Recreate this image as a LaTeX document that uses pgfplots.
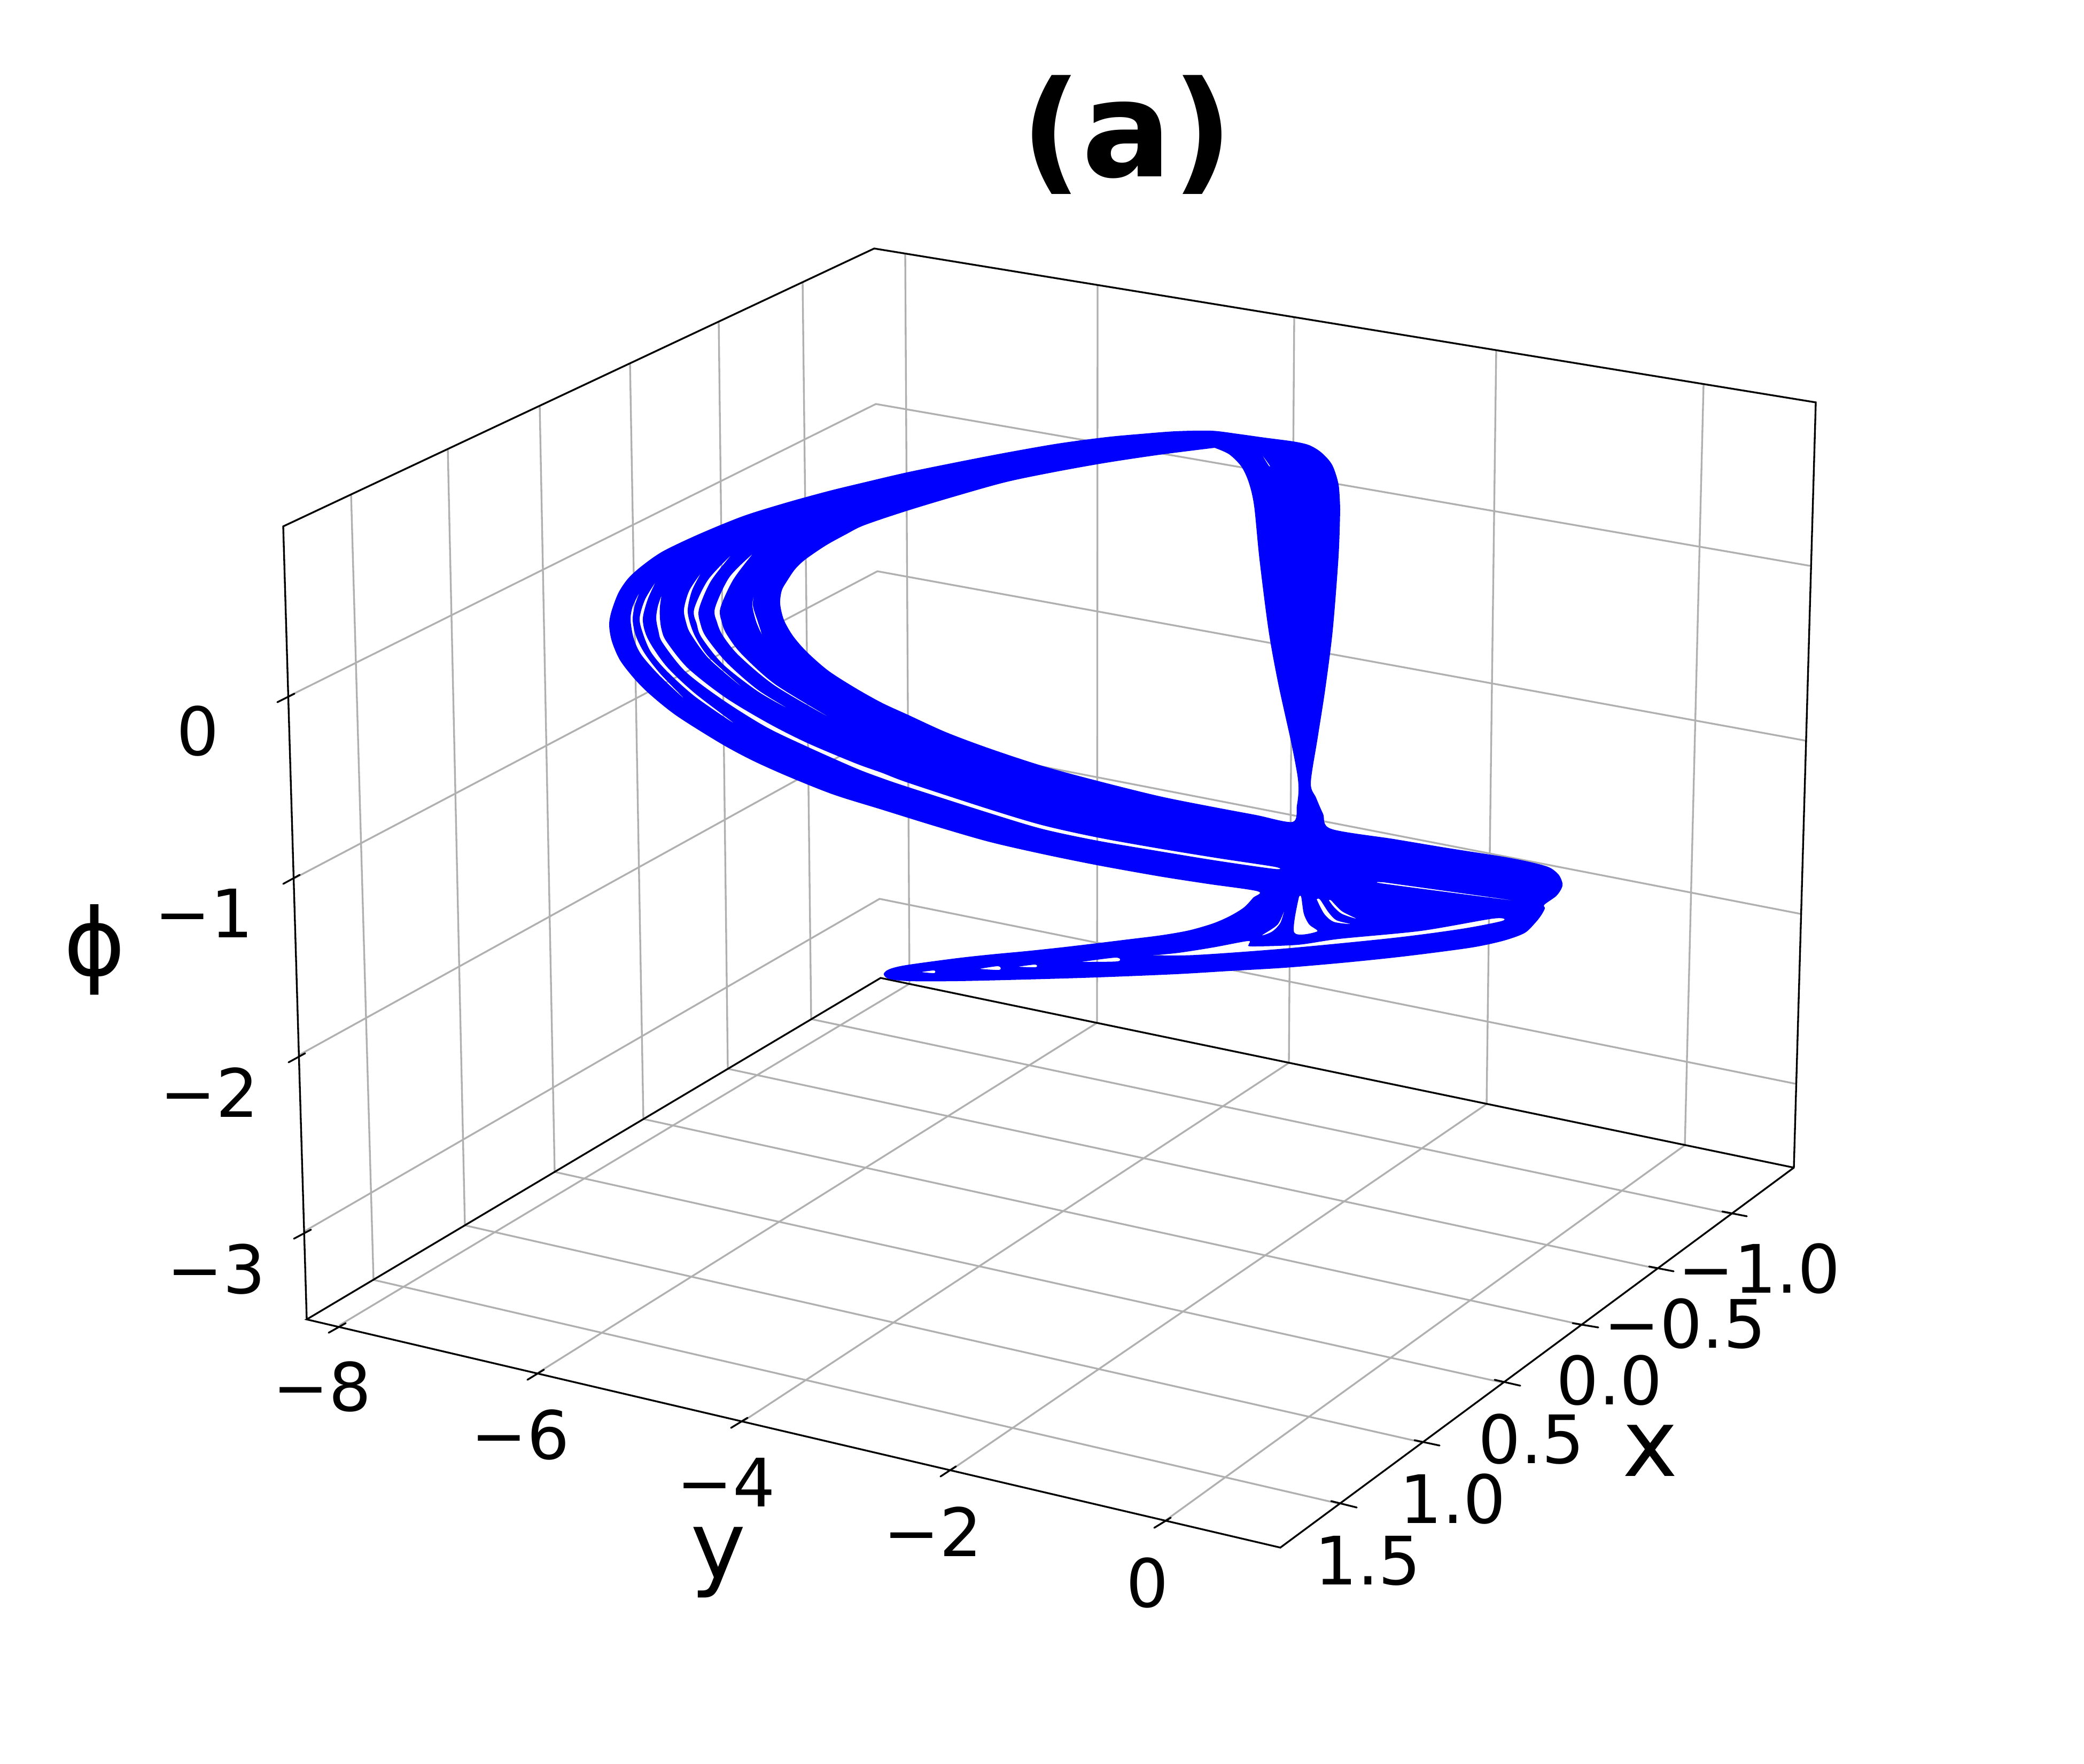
\documentclass[border=0pt]{standalone}
\usepackage{fontspec}
\setmainfont{DejaVu Sans}
\usepackage{pgfplots}
\pgfplotsset{compat=1.18}
% pgfplots has no perspective view, so the box and the orbit bundle are
% given in projected picture coordinates (reference pixels, y downwards)
\pgfplotsset{
  gridline/.style={color=grid, line width=0.8pt, unbounded coords=jump},
  boxline/.style={color=black, line width=0.8pt, line cap=round, unbounded coords=jump},
}
\definecolor{grid}{HTML}{B0B0B0}
\newcommand{\ticklab}[2]{\node[font=\fontsize{30}{36}\selectfont, inner sep=0pt] at (axis cs:#1) {#2};}
\newcommand{\axlab}[2]{\node[font=\fontsize{42}{50}\selectfont, inner sep=0pt] at (axis cs:#1) {#2};}
\begin{document}
\begin{tikzpicture}
\path[use as bounding box] (0,0) rectangle (936pt,792pt);
\begin{axis}[
  at={(0,0)}, anchor=south west, scale only axis,
  width=936pt, height=792pt,
  xmin=0, xmax=3900, ymin=0, ymax=3300, y dir=reverse,
  hide axis, clip=false,
]
% grid: phi = const on the two walls
\addplot[gridline] coordinates {
 (538,1304) (1639,756) (3388,1059) (nan,nan)
 (550,1644) (1642,1069) (3379,1386) (nan,nan)
 (560,1974) (1644,1375) (3369,1710) (nan,nan)
 (570,2304) (1646,1682) (3360,2028)
};
% grid: x = const, floor then left wall
\addplot[gridline] coordinates {
 (2507,2814) (699,2395) (657,925) (nan,nan)
 (2661,2699) (870,2293) (838,840) (nan,nan)
 (2811,2587) (1038,2193) (1010,759) (nan,nan)
 (2960,2479) (1204,2094) (1179,680) (nan,nan)
 (3101,2374) (1362,2000) (1345,602) (nan,nan)
 (3238,2271) (1518,1907) (1502,528)
};
% grid: y = const, floor then right wall
\addplot[gridline] coordinates {
 (635,2480) (1702,1841) (1694,474) (nan,nan)
 (1008,2568) (2053,1914) (2054,533) (nan,nan)
 (1390,2660) (2412,1989) (2422,593) (nan,nan)
 (1781,2750) (2782,2066) (2800,654) (nan,nan)
 (2180,2846) (3153,2143) (3188,719)
};
% box edges
\addplot[boxline] coordinates {
 (574,2469) (530,985) (1636,465) (3398,753) (3357,2185) (2396,2896) (574,2469) (1648,1830) (3357,2185)
};
% ticks
\addplot[boxline] coordinates {
 (551,1298) (519,1314) (nan,nan) (561,1637) (530,1654) (nan,nan)
 (571,1971) (540,1988) (nan,nan) (582,2301) (550,2318) (nan,nan)
 (647,2476) (615,2494) (nan,nan) (1018,2563) (987,2582) (nan,nan)
 (1399,2653) (1368,2672) (nan,nan) (1789,2744) (1760,2763) (nan,nan)
 (2191,2840) (2160,2859) (nan,nan)
 (2491,2809) (2539,2821) (nan,nan) (2647,2695) (2694,2705) (nan,nan)
 (2797,2582) (2845,2593) (nan,nan) (2943,2476) (2991,2484) (nan,nan)
 (3086,2370) (3132,2379) (nan,nan) (3223,2267) (3269,2276)
};
% orbit bundle: outline, inner loop and the slits between the strands
\addplot[fill=blue, draw=none, even odd rule, smooth, tension=0.5, unbounded coords=jump] coordinates {
 (2508,953) (2505,907) (2493,870) (2473,847) (2450,833) (2420,826) (2367,819) (2317,812)
 (2267,806) (2200,807) (2135,812) (2070,818) (1980,830) (1883,847) (1790,865) (1697,884)
 (1620,902) (1550,919) (1470,941) (1390,966) (1307,1000) (1240,1032) (1200,1060) (1175,1083)
 (1157,1110) (1144,1145) (1140,1170) (1145,1200) (1160,1235) (1187,1270) (1217,1300) (1267,1340) (1350,1392)
 (1410,1424) (1477,1454) (1560,1487) (1650,1515) (1750,1546) (1850,1575) (1950,1598) (2053,1619)
 (2170,1640) (2260,1654) (2354,1668)
 (2345,1680) (2328,1698) (2302,1714) (2270,1728) (2225,1741) (2174,1750) (2110,1758) (2053,1765) (1985,1773)
 (1919,1780) (1855,1786) (1791,1793) (1702,1805) (1672,1811) (1658,1817) (1654,1824) (1664,1832)
 (1702,1836) (1791,1836) (1919,1833) (2053,1829) (2200,1823) (2301,1817) (2404,1811) (2510,1802)
 (2608,1792) (2690,1782) (2761,1772) (2815,1760) (2853,1746) (2873,1727) (2884,1713) (2891,1700)
 (2890,1693) (2912,1677) (2922,1663) (2924,1653) (2917,1637) (2899,1623) (2863,1613) (2812,1603)
 (2710,1587) (2608,1570) (2491,1551) (2476,1523) (2463,1493) (2453,1465)
 (2466,1380) (2480,1290) (2494,1180) (2505,1040) (2508,953)
 (nan,nan)
 (2273,838) (2300,850) (2323,873) (2337,903) (2347,947) (2357,1047) (2374,1180) (2392,1279)
 (2416,1388) (2428,1451) (2430,1480) (2427,1507) (2419,1538) (2350,1525) (2270,1510) (2170,1490)
 (2053,1461) (1950,1433) (1850,1400) (1770,1370) (1700,1338) (1650,1315) (1600,1287) (1550,1255)
 (1510,1220) (1484,1190) (1467,1160) (1460,1130) (1463,1105) (1473,1087) (1488,1065) (1507,1047)
 (1545,1021) (1583,1000) (1617,983) (1697,956) (1790,928) (1883,902) (1975,883) (2070,866)
 (2170,851) (2273,838)
 (nan,nan)
 (2155,1788) (2206,1783) (2270,1773) (2335,1761) (2337,1767) (2343,1771) (2429,1768) (2506,1757)
 (2659,1742) (2794,1719) (2812,1723) (2736,1738) (2608,1755) (2404,1775) (2238,1787) (2155,1788)
 (nan,nan)
 (1197,1108) (1184,1135) (1180,1160) (1186,1195) (1200,1225) (1233,1263) (1280,1307)
 (1235,1260) (1206,1222) (1190,1190) (1184,1160) (1188,1133) (1197,1108)
 (nan,nan)
 (1227,1089) (1207,1122) (1197,1157) (1203,1185) (1218,1220) (1247,1255) (1300,1303) (1373,1353)
 (1300,1297) (1250,1250) (1222,1212) (1208,1185) (1203,1157) (1212,1122) (1227,1089)
 (nan,nan)
 (1238,1114) (1231,1135) (1228,1157) (1232,1180) (1240,1203) (1283,1257) (1353,1310) (1433,1360)
 (1510,1397) (1600,1437) (1650,1456) (1700,1473) (1850,1521) (1950,1551) (2053,1573) (2170,1593) (2280,1611) (2385,1626)
 (2385,1622) (2280,1606) (2170,1588) (2053,1567) (1950,1544) (1850,1514) (1700,1465) (1650,1446) (1600,1428)
 (1510,1390) (1437,1353) (1357,1305) (1287,1250) (1247,1200) (1238,1178) (1235,1157) (1235,1135) (1238,1114)
 (nan,nan)
 (1312,1072) (1290,1105) (1280,1140) (1284,1165) (1293,1187) (1327,1233) (1390,1287)
 (1327,1230) (1302,1193) (1291,1165) (1287,1140) (1295,1105) (1312,1072)
 (nan,nan)
 (1369,1038) (1325,1085) (1299,1140) (1304,1168) (1313,1193) (1353,1243) (1417,1293) (1473,1325)
 (1417,1290) (1360,1240) (1322,1193) (1311,1168) (1308,1140) (1330,1088) (1369,1038)
 (nan,nan)
 (1409,1036) (1365,1080) (1338,1138) (1342,1165) (1353,1190) (1383,1227) (1450,1283) (1553,1343)
 (1450,1280) (1387,1223) (1360,1187) (1351,1165) (1348,1138) (1372,1085) (1409,1036)
 (nan,nan)
 (1412,1108) (1408,1133) (1415,1163) (1426,1188) (1418,1163) (1409,1133) (1412,1108)
 (nan,nan)
 (2589,1651) (2838,1686) (2592,1654) (2589,1651)
 (nan,nan)
 (2361,850) (2376,871) (2374,871) (2361,850)
 (nan,nan)
 (1724,1819) (1748,1816) (1748,1821) (1724,1819)
 (nan,nan)
 (1833,1813) (1868,1808) (1870,1815) (1833,1813)
 (nan,nan)
 (1905,1809) (1937,1805) (1938,1810) (1905,1809)
 (nan,nan)
 (2024,1800) (2088,1792) (2091,1799) (2024,1800)
 (nan,nan)
 (2404,1702) (2391,1730) (2362,1750) (2381,1743) (2396,1727) (2404,1702)
 (nan,nan)
 (2431,1678) (2435,1678) (2440,1710) (2450,1730) (2465,1743) (2422,1745) (2431,1678)
 (nan,nan)
 (2464,1683) (2470,1683) (2486,1707) (2501,1722) (2527,1729) (2496,1725) (2478,1710) (2464,1683)
 (nan,nan)
 (2487,1685) (2491,1685) (2511,1705) (2538,1719) (2511,1710) (2496,1697) (2487,1685)
};
% tick labels
\ticklab{370,1368}{0}
\ticklab{382,1709}{−1}
\ticklab{392,2044}{−2}
\ticklab{405,2375}{−3}
\ticklab{603,2595}{−8}
\ticklab{974,2685}{−6}
\ticklab{1359,2774}{−4}
\ticklab{1746,2866}{−2}
\ticklab{2147,2962}{0}
\ticklab{2560,2921}{1.5}
\ticklab{2719,2805}{1.0}
\ticklab{2866,2693}{0.5}
\ticklab{3012,2583}{0.0}
\ticklab{3153,2477}{−0.5}
\ticklab{3292,2374}{−1.0}
% axis labels and title
\axlab{177,1777}{ϕ}
\axlab{1344,2924}{y}
\axlab{3088,2715}{x}
\node[font=\fontsize{60}{72}\selectfont\bfseries, inner sep=0pt] at (axis cs:2109,252) {(a)};
\end{axis}
\end{tikzpicture}
\end{document}
